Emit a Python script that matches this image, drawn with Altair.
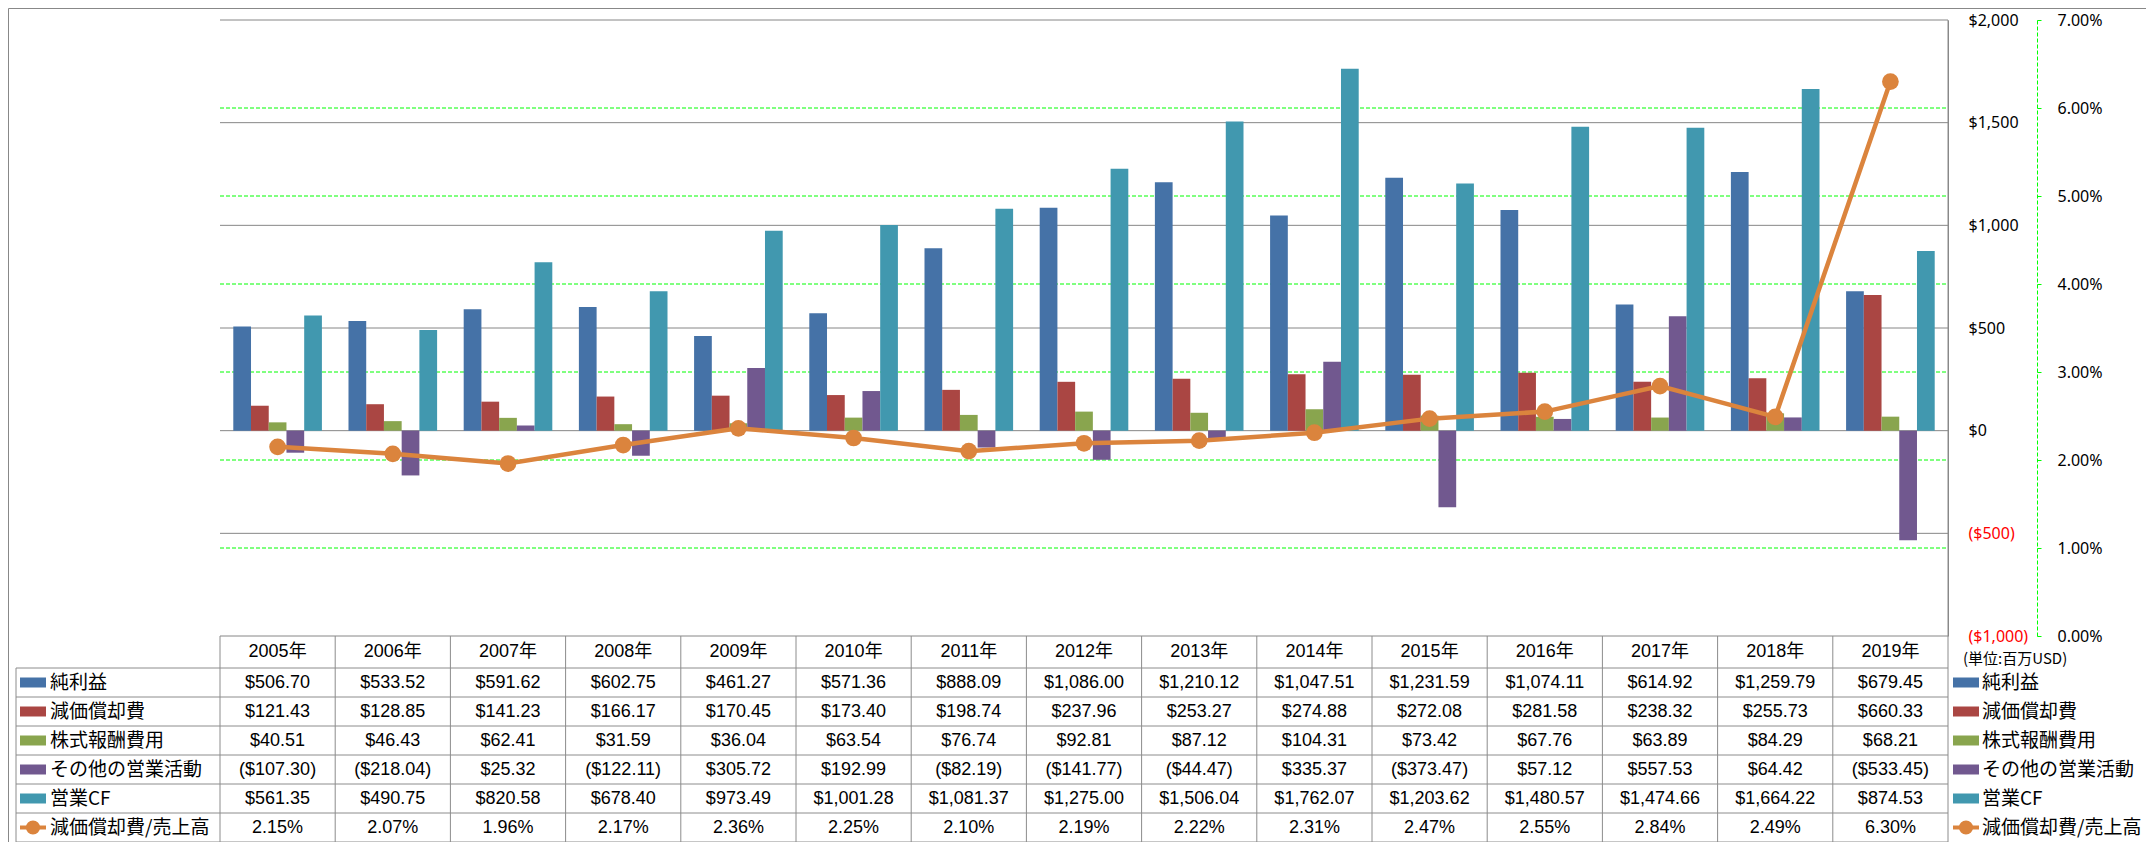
import altair as alt
import pandas as pd

# ---------------- data ----------------
years = ["2005", "2006", "2007", "2008", "2009", "2010", "2011", "2012",
         "2013", "2014", "2015", "2016", "2017", "2018", "2019"]
series = ["純利益", "減価償却費", "株式報酬費用", "その他の営業活動", "営業CF"]
ratio_name = "減価償却費/売上高"

net_income = [506.70, 533.52, 591.62, 602.75, 461.27, 571.36, 888.09, 1086.00,
              1210.12, 1047.51, 1231.59, 1074.11, 614.92, 1259.79, 679.45]
depreciation = [121.43, 128.85, 141.23, 166.17, 170.45, 173.40, 198.74, 237.96,
                253.27, 274.88, 272.08, 281.58, 238.32, 255.73, 660.33]
stock_comp = [40.51, 46.43, 62.41, 31.59, 36.04, 63.54, 76.74, 92.81,
              87.12, 104.31, 73.42, 67.76, 63.89, 84.29, 68.21]
other_ops = [-107.30, -218.04, 25.32, -122.11, 305.72, 192.99, -82.19, -141.77,
             -44.47, 335.37, -373.47, 57.12, 557.53, 64.42, -533.45]
operating_cf = [561.35, 490.75, 820.58, 678.40, 973.49, 1001.28, 1081.37, 1275.00,
                1506.04, 1762.07, 1203.62, 1480.57, 1474.66, 1664.22, 874.53]
dep_ratio_pct = [2.15, 2.07, 1.96, 2.17, 2.36, 2.25, 2.10, 2.19,
                 2.22, 2.31, 2.47, 2.55, 2.84, 2.49, 6.30]

dollar_ticks = [-1000, -500, 0, 500, 1000, 1500, 2000]
pct_ticks = [0.0, 0.01, 0.02, 0.03, 0.04, 0.05, 0.06, 0.07]

bar_values = [net_income, depreciation, stock_comp, other_ops, operating_cf]
colors = ["#4572A7", "#AA4643", "#89A54E", "#71588F", "#4198AF"]
ORANGE = "#DB843D"
GREEN = "#00FF00"
GRID = "#868686"
TBL = "#8C8C8C"

# ---------------- layout (pixels) ----------------
W, H = 2138, 834
PX0, PX1 = 212, 1940          # plot area x
PY0, PY1 = 12, 628            # plot area y
HDR_Y1 = 660                  # header row bottom
TB_Y1 = 834                   # table bottom
LAB_X0 = 8                    # label column left
PCT_AXIS_X = 2029

NUM_FONT = "Liberation Sans, Noto Sans CJK JP"
CJK_FONT = "Noto Sans CJK JP"
AX_FONT = "Noto Sans"


def money(v):
    return "(${:,.2f})".format(-v) if v < 0 else "${:,.2f}".format(v)


rows = series + [ratio_name]

bar_df = pd.DataFrame([{"year": y, "series": s, "value": v}
                       for s, vals in zip(series, bar_values)
                       for y, v in zip(years, vals)])
line_df = pd.DataFrame({"year": years, "ratio": [v / 100 for v in dep_ratio_pct]})

cell_rows = []
for s, vals in zip(series, bar_values):
    for y, v in zip(years, vals):
        cell_rows.append({"year": y, "row": s, "label": money(v)})
for y, v in zip(years, dep_ratio_pct):
    cell_rows.append({"year": y, "row": ratio_name, "label": "{:.2f}%".format(v)})
cell_df = pd.DataFrame(cell_rows)

year_df = pd.DataFrame({"year": years, "label": [y + "年" for y in years]})
row_df = pd.DataFrame({"row": rows})
bar_row_df = pd.DataFrame({"row": series})
ratio_row_df = pd.DataFrame({"row": [ratio_name]})
dollar_df = pd.DataFrame({"v": dollar_ticks})
pct_df = pd.DataFrame({"v": pct_ticks[1:-1]})   # inner green gridlines (ends lie under the grey frame)
one_df = pd.DataFrame({"t": ["(単位:百万USD)"]})

# ---------------- scales ----------------
xscale = alt.Scale(type="band", domain=years, range=[PX0, PX1], paddingInner=0, paddingOuter=0)
X = alt.X("year:N", scale=xscale, axis=None)
yd_scale = alt.Scale(domain=[-1000, 2000], range=[PY1, PY0], nice=False, zero=False)
yp_scale = alt.Scale(domain=[0, 0.07], range=[PY1, PY0], nice=False, zero=False)
yrow_scale = alt.Scale(type="band", domain=rows, range=[HDR_Y1, TB_Y1], paddingInner=0, paddingOuter=0)
Yrow = alt.Y("row:N", scale=yrow_scale, axis=None)
color_scale = alt.Scale(domain=series, range=colors)

dollar_axis = alt.Axis(
    orient="right", offset=PX1 - W, values=dollar_ticks, title=None,
    labelExpr="datum.value < 0 ? '($' + format(-datum.value, ',') + ')' : '$' + format(datum.value, ',')",
    labelColor={"condition": {"test": "datum.value < 0", "value": "#FF0000"}, "value": "#000000"},
    labelFont=AX_FONT, labelFontSize=16, labelPadding=20, labelAlign="left", labelBaseline="middle",
    labelOverlap=False, labelFlush=False,
    ticks=False, domain=True, domainColor=GRID, domainWidth=1, grid=False)

pct_axis = alt.Axis(
    orient="right", offset=PCT_AXIS_X - W, values=pct_ticks, format=".2%", title=None,
    labelFont=AX_FONT, labelFontSize=16, labelColor="#000000", labelPadding=16,
    labelAlign="left", labelBaseline="middle", labelOverlap=False, labelFlush=False,
    ticks=True, tickColor=GREEN, tickSize=4, tickWidth=1,
    domain=True, domainColor=GREEN, domainDash=[4, 2], domainWidth=1, grid=False)

# ---------------- gridlines ----------------
pct_grid = alt.Chart(pct_df).mark_rule(color=GREEN, strokeWidth=1, strokeDash=[4, 2]).encode(
    y=alt.Y("v:Q", scale=yp_scale, axis=None), x=alt.value(PX0), x2=alt.value(PX1))
dollar_grid = alt.Chart(dollar_df).mark_rule(color=GRID, strokeWidth=1).encode(
    y=alt.Y("v:Q", scale=yd_scale, axis=None), x=alt.value(PX0), x2=alt.value(PX1))

# ---------------- bars & line ----------------
bars = alt.Chart(bar_df).mark_bar().encode(
    x=X,
    xOffset=alt.XOffset("series:N", scale=alt.Scale(domain=series, paddingInner=0, paddingOuter=0.75)),
    y=alt.Y("value:Q", scale=yd_scale, axis=dollar_axis),
    color=alt.Color("series:N", scale=color_scale, legend=None),
)

line = alt.Chart(line_df).mark_line(
    color=ORANGE, strokeWidth=4.5,
    point=alt.OverlayMarkDef(filled=True, size=280, color=ORANGE, opacity=1),
).encode(x=X, y=alt.Y("ratio:Q", scale=yp_scale, axis=pct_axis))

# ---------------- data table ----------------
vrules = alt.Chart(year_df).mark_rule(color=TBL, strokeWidth=1).encode(
    x=alt.X("year:N", scale=xscale, axis=None, bandPosition=0),
    y=alt.value(PY1), y2=alt.value(TB_Y1))
vrule_end = alt.Chart(year_df.tail(1)).mark_rule(color=TBL, strokeWidth=1).encode(
    x=alt.X("year:N", scale=xscale, axis=None, bandPosition=1),
    y=alt.value(PY0), y2=alt.value(TB_Y1))
hrules = alt.Chart(row_df).mark_rule(color=TBL, strokeWidth=1).encode(
    y=alt.Y("row:N", scale=yrow_scale, axis=None, bandPosition=0),
    x=alt.value(LAB_X0), x2=alt.value(PX1))
hrule_end = alt.Chart(row_df.tail(1)).mark_rule(color=TBL, strokeWidth=1).encode(
    y=alt.Y("row:N", scale=yrow_scale, axis=None, bandPosition=1),
    x=alt.value(LAB_X0), x2=alt.value(PX1))
left_border = alt.Chart(one_df).mark_rule(color=TBL, strokeWidth=1).encode(
    x=alt.value(LAB_X0), y=alt.value(HDR_Y1), y2=alt.value(TB_Y1))

header = alt.Chart(year_df).mark_text(font=NUM_FONT, fontSize=18, color="#000000").encode(
    x=X, y=alt.value((PY1 + HDR_Y1) / 2), text="label:N")
cells = alt.Chart(cell_df).mark_text(font=NUM_FONT, fontSize=18, color="#000000").encode(
    x=X, y=Yrow, text="label:N")


def key_layers(sw_x, text_x):
    sw = alt.Chart(bar_row_df).mark_tick(orient="horizontal", size=26, thickness=10, opacity=1).encode(
        x=alt.value(sw_x), y=Yrow, color=alt.Color("row:N", scale=color_scale, legend=None))
    ln = alt.Chart(ratio_row_df).mark_tick(orient="horizontal", size=26, thickness=4, opacity=1,
                                           color=ORANGE).encode(x=alt.value(sw_x), y=Yrow)
    dot = alt.Chart(ratio_row_df).mark_point(shape="circle", filled=True, size=200, opacity=1,
                                             color=ORANGE).encode(x=alt.value(sw_x), y=Yrow)
    txt = alt.Chart(row_df).mark_text(align="left", font=CJK_FONT, fontSize=19, color="#000000").encode(
        x=alt.value(text_x), y=Yrow, text="row:N")
    return [sw, ln, dot, txt]


left_keys = key_layers(25, 42)
right_keys = key_layers(1958, 1974)

unit = alt.Chart(one_df).mark_text(align="left", font=CJK_FONT, fontSize=15, color="#000000").encode(
    x=alt.value(1955), y=alt.value(651), text="t:N")

chart = alt.layer(
    pct_grid, dollar_grid, bars, line,
    vrules, vrule_end, hrules, hrule_end, left_border,
    header, cells, *left_keys, *right_keys, unit,
).resolve_scale(y="independent").properties(
    width=W, height=H, padding=0, autosize=alt.AutoSizeParams(type="none"),
).configure_view(stroke="#888888", strokeWidth=1)

chart.save("out.html", embed_options={"renderer": "svg", "actions": False})
